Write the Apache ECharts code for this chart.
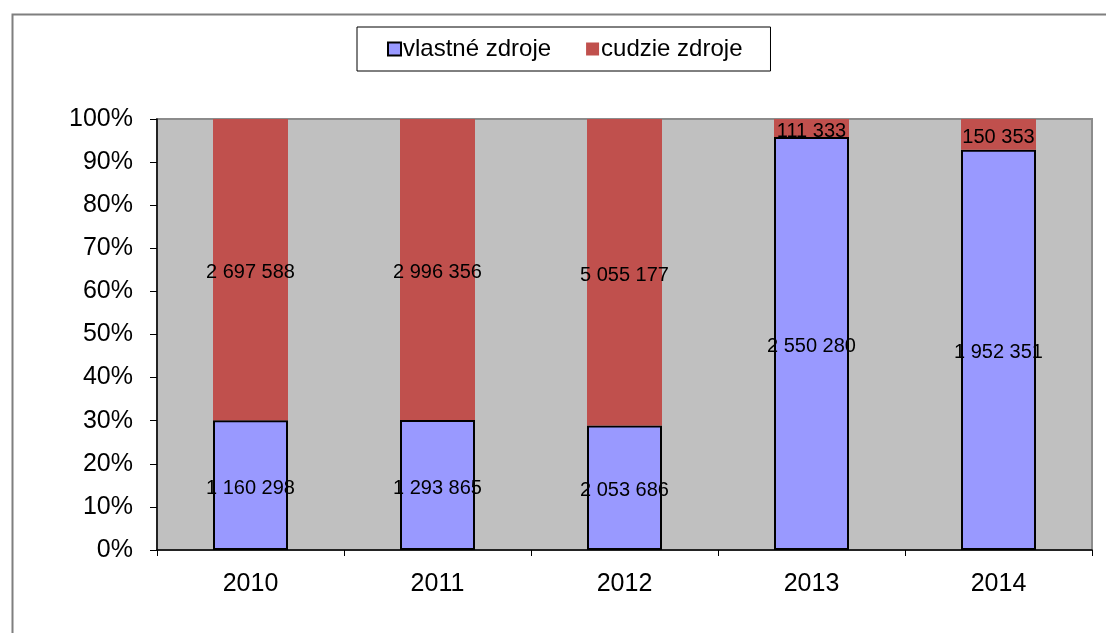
<!DOCTYPE html>
<html>
<head>
<meta charset="utf-8">
<script src="https://cdn.jsdelivr.net/npm/echarts@6/dist/echarts.min.js"></script>
<style>
  html, body { margin: 0; padding: 0; background: #fff; }
  #chart01 { width: 1106px; height: 633px; }
</style>
</head>
<body>
<div id="chart01"></div>
<script>
// data
var years = ["2010", "2011", "2012", "2013", "2014"];
var vlastne = [1160298, 1293865, 2053686, 2550280, 1952351];
var cudzie = [2697588, 2996356, 5055177, 111333, 150353];
var yTicks = [0, 10, 20, 30, 40, 50, 60, 70, 80, 90, 100];

function share(arr, i) {
    return (arr[i] / (vlastne[i] + cudzie[i])) * 100;
}
function fmt(n) {
    return String(n).replace(/\B(?=(\d{3})+(?!\d))/g, " ");
}

var vlastneData = years.map(function (y, i) { return { value: share(vlastne, i), raw: vlastne[i] }; });
var cudzieData = years.map(function (y, i) { return { value: share(cudzie, i), raw: cudzie[i] }; });

var font = "Arial, 'Liberation Sans', sans-serif";
var dataLabel = {
    show: true,
    position: "inside",
    offset: [0, 3],
    color: "#000",
    fontFamily: font,
    fontSize: 20,
    textBorderWidth: 0,
    formatter: function (p) { return fmt(p.data.raw); }
};

var myChart01 = echarts.init(document.getElementById('chart01'));
var option = {
    animation: false,
    backgroundColor: "#fff",
    graphic: [
        {
            type: "rect",
            left: 10, top: 12,
            shape: { width: 1120, height: 660 },
            style: { fill: "none", stroke: "#7f7f7f", lineWidth: 2 },
            silent: true
        }
    ],
    legend: {
        left: 357,
        top: 27,
        padding: [10, 28, 10, 30],
        itemGap: 35,
        itemWidth: 13,
        itemHeight: 13,
        icon: "rect",
        borderColor: "#000",
        borderWidth: 1,
        textStyle: { color: "#000", fontFamily: font, fontSize: 24, padding: [0, 0, 0, -3] },
        data: [
            { name: "vlastné zdroje", itemStyle: { borderColor: "#000", borderWidth: 2 } },
            { name: "cudzie zdroje" }
        ]
    },
    grid: {
        left: 157,
        right: 14,
        top: 119,
        bottom: 83,
        show: true,
        backgroundColor: "#C0C0C0",
        borderColor: "#8c8c8c",
        borderWidth: 2
    },
    xAxis: {
        type: "category",
        data: years,
        axisLine: { lineStyle: { color: "#000", width: 1.5 } },
        axisTick: { show: true, length: 6, interval: 0, lineStyle: { color: "#000" } },
        axisLabel: { color: "#000", fontFamily: font, fontSize: 25, margin: 22 }
    },
    yAxis: {
        type: "value",
        min: 0,
        max: 100,
        interval: 10,
        splitLine: { show: false },
        axisLine: { show: true, lineStyle: { color: "#000", width: 1.5 } },
        axisTick: { show: true, length: 7, lineStyle: { color: "#000" } },
        axisLabel: {
            color: "#000", fontFamily: font, fontSize: 25, margin: 24,
            formatter: function (v) { return yTicks.indexOf(v) >= 0 ? v + "%" : ""; }
        }
    },
    series: [
        {
            name: "vlastné zdroje",
            type: "bar",
            stack: "total",
            barWidth: 75,
            itemStyle: { color: "#9999FF", borderColor: "#000", borderWidth: 2 },
            label: dataLabel,
            data: vlastneData
        },
        {
            name: "cudzie zdroje",
            type: "bar",
            stack: "total",
            barWidth: 75,
            itemStyle: { color: "#C0504D" },
            label: dataLabel,
            data: cudzieData
        }
    ]
};
myChart01.setOption(option);
</script>
</body>
</html>
